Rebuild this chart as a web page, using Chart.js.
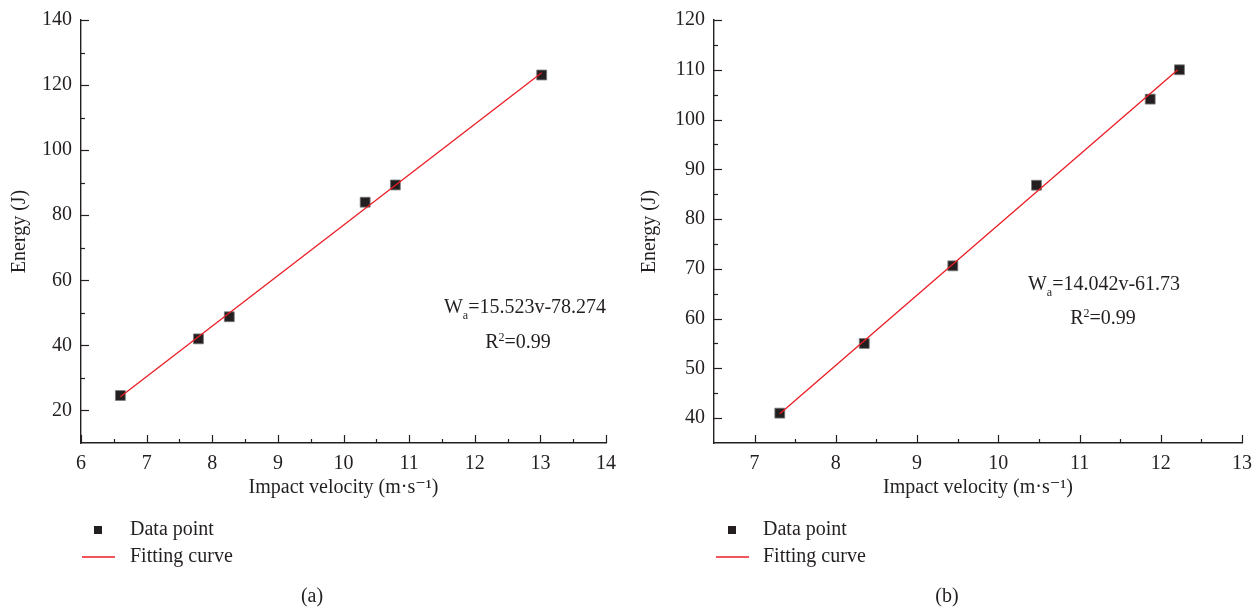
<!DOCTYPE html>
<html>
<head>
<meta charset="utf-8">
<title>Energy vs impact velocity</title>
<script src="https://cdn.jsdelivr.net/npm/chart.js@4.4.1/dist/chart.umd.min.js"></script>
<style>
  body { margin: 0; background: #fff; }
  .panel { position: absolute; top: 0; width: 630px; height: 607px; }
  #panelA { left: 0; }
  #panelB { left: 630px; }
</style>
</head>
<body>
<div class="panel" id="panelA"><canvas id="chartA" width="630" height="607"></canvas></div>
<div class="panel" id="panelB"><canvas id="chartB" width="630" height="607"></canvas></div>
<script>
// panel (a)
const velocityA = [6.6, 7.79, 8.26, 10.33, 10.79, 13.02];
const energyA = [24.6, 42.0, 48.8, 84.0, 89.3, 123.1];
const fitVelocityA = [6.6, 13.02];
const fitEnergyA = [24.2, 123.8];
const equationA = '=15.523v-78.274';

// panel (b)
const velocityB = [7.31, 8.35, 9.44, 10.47, 11.87, 12.23];
const energyB = [41.0, 55.0, 70.6, 86.8, 104.1, 110.0];
const fitVelocityB = [7.31, 12.21];
const fitEnergyB = [40.9, 110.0];
const equationB = '=14.042v-61.73';

const rSquared = '=0.99';
const legendLabels = ['Data point', 'Fitting curve'];

const INK = '#231f20';
const RED = '#ec1c24';
const SERIF = "'Liberation Serif', 'DejaVu Serif', serif";

function pairs(xs, ys) {
  return xs.map((x, i) => ({x: x, y: ys[i]}));
}

// inward major + minor tick marks
const innerTicks = {
  id: 'innerTicks',
  afterDraw(chart) {
    const ctx = chart.ctx;
    const area = chart.chartArea;
    ctx.save();
    ctx.strokeStyle = INK;
    ctx.lineWidth = 1.2;
    ['x', 'y'].forEach(id => {
      const sc = chart.scales[id];
      const vals = sc.ticks.map(t => t.value);
      const marks = vals.map(v => [v, 8]);
      const half = (vals[1] - vals[0]) / 2;
      for (let i = 0; i < vals.length; i++) {
        const m = vals[i] - half;
        if (m > sc.min + 1e-6) marks.push([m, 4]);
      }
      const last = vals[vals.length - 1] + half;
      if (last < sc.max - 1e-6) marks.push([last, 4]);
      marks.forEach(([v, len]) => {
        const p = Math.round(sc.getPixelForValue(v)) + 0.5;
        ctx.beginPath();
        if (id === 'x') {
          ctx.moveTo(p, area.bottom);
          ctx.lineTo(p, area.bottom - len);
        } else {
          ctx.moveTo(area.left, p);
          ctx.lineTo(area.left + len, p);
        }
        ctx.stroke();
      });
    });
    ctx.restore();
  }
};

// equation, legend and caption
const panelText = {
  id: 'panelText',
  afterDraw(chart, args, o) {
    const ctx = chart.ctx;
    ctx.save();
    ctx.fillStyle = INK;
    ctx.textBaseline = 'alphabetic';
    const big = '20px ' + SERIF;
    const small = '12px ' + SERIF;

    // W_a = ...
    ctx.font = big;
    const wW = ctx.measureText('W').width;
    const wE = ctx.measureText(o.equation).width;
    ctx.font = small;
    const wSub = ctx.measureText('a').width;
    let x = o.eqX - (wW + wSub + wE) / 2;
    ctx.font = big;
    ctx.fillText('W', x, o.eqY);
    x += wW;
    ctx.font = small;
    ctx.fillText('a', x, o.eqY + 6);
    x += wSub;
    ctx.font = big;
    ctx.fillText(o.equation, x, o.eqY);

    // R^2
    ctx.font = big;
    const wR = ctx.measureText('R').width;
    const wRest = ctx.measureText(rSquared).width;
    ctx.font = small;
    const wSup = ctx.measureText('2').width;
    x = o.rX - (wR + wSup + wRest) / 2;
    ctx.font = big;
    ctx.fillText('R', x, o.rY);
    x += wR;
    ctx.font = small;
    ctx.fillText('2', x, o.rY - 7);
    x += wSup;
    ctx.font = big;
    ctx.fillText(rSquared, x, o.rY);

    // legend
    ctx.font = big;
    ctx.textBaseline = 'middle';
    ctx.fillRect(o.legX - 4, o.legY - 4, 8, 8);
    ctx.fillText(legendLabels[0], o.legTextX, o.legY);
    ctx.strokeStyle = RED;
    ctx.lineWidth = 1.3;
    ctx.beginPath();
    ctx.moveTo(o.legX - 16, o.legY + 27);
    ctx.lineTo(o.legX + 17, o.legY + 27);
    ctx.stroke();
    ctx.fillText(legendLabels[1], o.legTextX, o.legY + 27);

    // caption
    ctx.textAlign = 'center';
    ctx.fillText(o.caption, o.capX, o.capY);
    ctx.restore();
  }
};

function makeChart(id, pts, fit, sc, txt) {
  return new Chart(document.getElementById(id), {
    type: 'scatter',
    data: {
      datasets: [
        {
          label: legendLabels[1],
          data: fit,
          showLine: true,
          borderColor: RED,
          borderWidth: 1.3,
          pointRadius: 0,
          fill: false
        },
        {
          label: legendLabels[0],
          data: pts,
          pointStyle: 'rect',
          pointRadius: 7,
          pointHoverRadius: 7,
          backgroundColor: INK,
          borderColor: '#7a7a7a',
          borderWidth: 0.8
        }
      ]
    },
    options: {
      responsive: false,
      animation: false,
      events: [],
      layout: { padding: { top: 20, right: sc.padRight, bottom: 107, left: 0 } },
      plugins: {
        legend: { display: false },
        tooltip: { enabled: false },
        panelText: txt
      },
      scales: {
        x: {
          type: 'linear',
          min: sc.xMin,
          max: sc.xMax,
          afterFit(s) { s.height = 57; },
          grid: { display: false },
          border: { display: true, color: INK, width: 1.4 },
          ticks: { stepSize: 1, includeBounds: false, color: INK, padding: 1,
                   font: { family: SERIF, size: 20 }, maxRotation: 0 },
          title: { display: true, text: 'Impact velocity (m·s⁻¹)', color: INK,
                   font: { family: SERIF, size: 20 }, padding: { top: 0, bottom: 0 } }
        },
        y: {
          type: 'linear',
          min: sc.yMin,
          max: sc.yMax,
          afterFit(s) { s.width = sc.yWidth; },
          grid: { display: false },
          border: { display: true, color: INK, width: 1.4 },
          ticks: { stepSize: sc.yStep, includeBounds: false, color: INK, padding: 1,
                   font: { family: SERIF, size: 20 } },
          title: { display: true, text: 'Energy (J)', color: INK,
                   font: { family: SERIF, size: 20 }, padding: { top: 8, bottom: 0 } }
        }
      }
    },
    plugins: [innerTicks, panelText]
  });
}

makeChart('chartA', pairs(velocityA, energyA), pairs(fitVelocityA, fitEnergyA),
  { xMin: 6, xMax: 14, yMin: 10, yMax: 140, yStep: 20, yWidth: 81, padRight: 24 },
  { equation: equationA, eqX: 525, eqY: 313, rX: 518, rY: 348,
    legX: 98, legY: 530, legTextX: 130, caption: '(a)', capX: 312, capY: 597 });

makeChart('chartB', pairs(velocityB, energyB), pairs(fitVelocityB, fitEnergyB),
  { xMin: 6.5, xMax: 13, yMin: 35, yMax: 120, yStep: 10, yWidth: 84, padRight: 18 },
  { equation: equationB, eqX: 474, eqY: 290, rX: 473, rY: 324,
    legX: 102, legY: 530, legTextX: 133, caption: '(b)', capX: 317, capY: 597 });
</script>
</body>
</html>
